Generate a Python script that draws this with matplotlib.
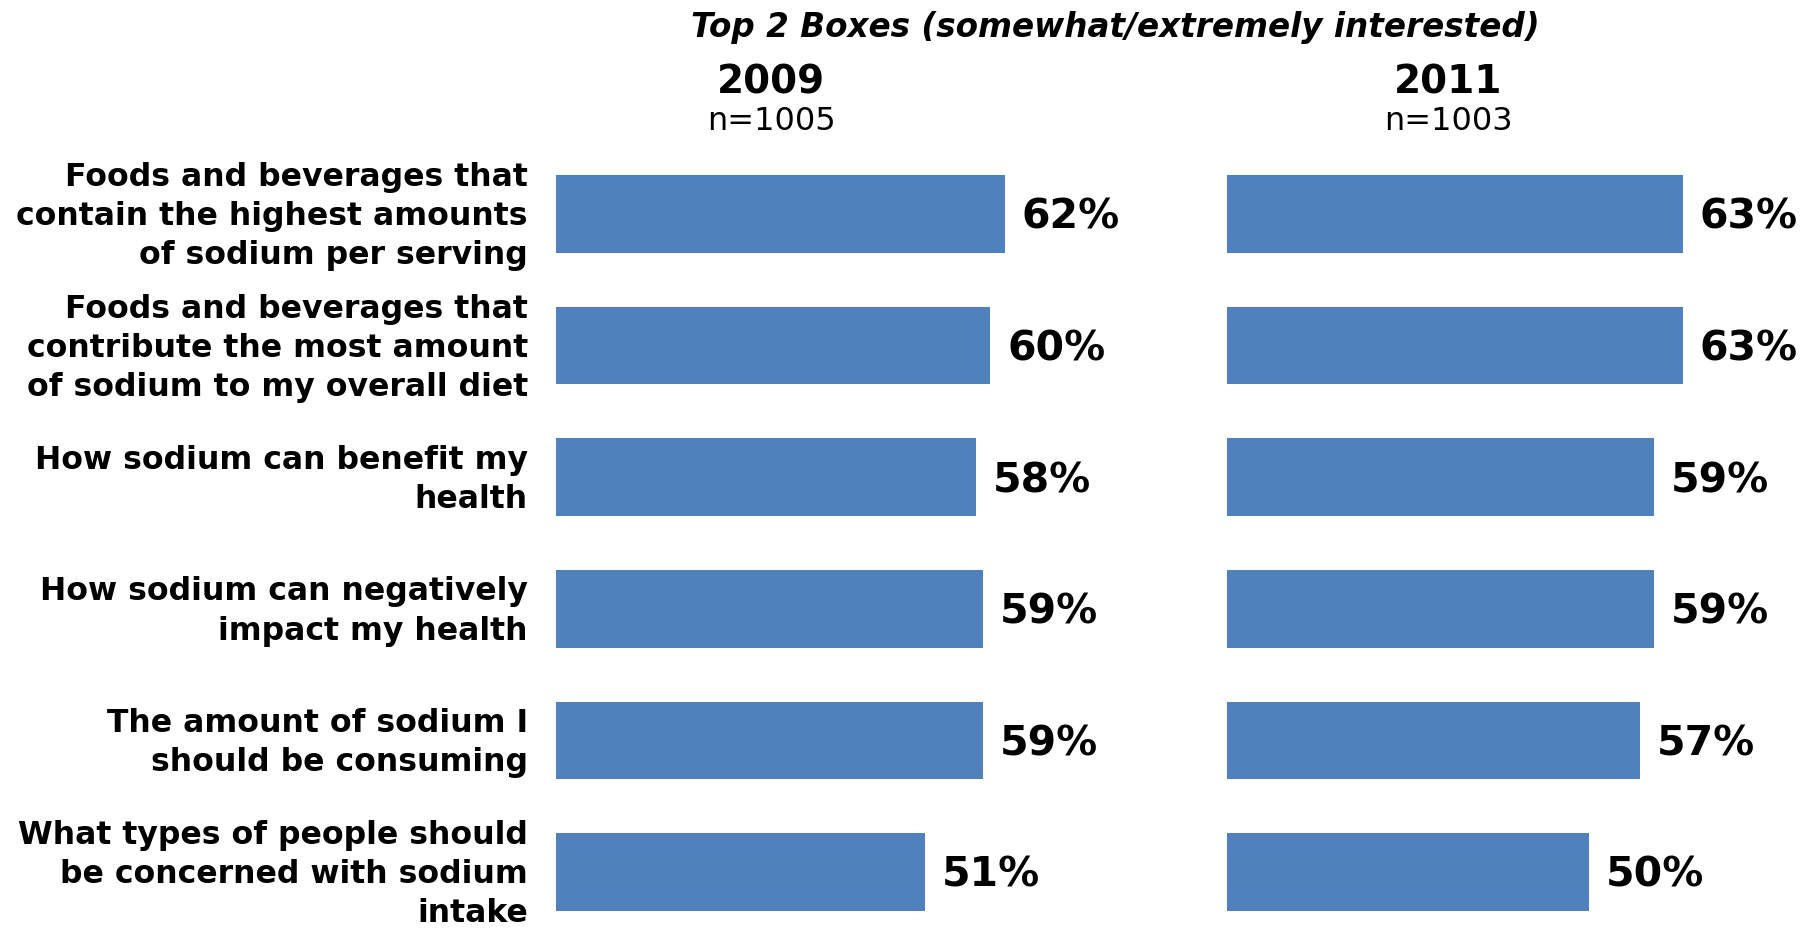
import numpy as np
import matplotlib.pyplot as plt

labels = [
    'Foods and beverages that\ncontain the highest amounts\nof sodium per serving',
    'Foods and beverages that\ncontribute the most amount\nof sodium to my overall diet',
    'How sodium can benefit my\nhealth',
    'How sodium can negatively\nimpact my health',
    'The amount of sodium I\nshould be consuming',
    'What types of people should\nbe concerned with sodium\nintake',
]
vals_2009 = [62, 60, 58, 59, 59, 51]
vals_2011 = [63, 63, 59, 59, 57, 50]
years = ['2009', '2011']
ns = ['n=1005', 'n=1003']

W, H = 1816, 930
fig = plt.figure(figsize=(W / 100, H / 100), dpi=100)

BLUE = '#4F81BD'
px_per_pct = 7.24
row_px = 131.6
first_center = 214

# axes cover full height; y limits map rows to pixel positions
ytop = -first_center / row_px
ybot = (H - first_center) / row_px

def panel(x0, vals):
    width_px = 80 * px_per_pct
    ax = fig.add_axes([x0 / W, 0, width_px / W, 1])
    y = np.arange(len(vals))
    ax.barh(y, vals, height=0.59, color=BLUE)
    for yi, v in zip(y, vals):
        ax.text(v + 2.3, yi + 0.03, f'{v}%', va='center', ha='left',
                fontsize=29.5, fontweight='bold', color='black')
    ax.set_xlim(0, 80)
    ax.set_ylim(ybot, ytop)
    ax.axis('off')
    return ax

ax1 = panel(556, vals_2009)
ax2 = panel(1227, vals_2011)

for i, lab in enumerate(labels):
    ax1.text(-3.9, i + 0.02, lab, ha='right', va='center', fontsize=22.7,
             fontweight='bold', linespacing=1.34)

fig.text(1115 / W, 1 - 27 / H, 'Top 2 Boxes (somewhat/extremely interested)',
         ha='center', va='center', fontsize=23.5, fontweight='bold', style='italic')
for xc, yr, n in zip([771, 1448], years, ns):
    fig.text(xc / W, 1 - 83 / H, yr, ha='center', va='center',
             fontsize=28, fontweight='bold')
    fig.text(xc / W, 1 - 122 / H, n, ha='center', va='center', fontsize=23)

fig.savefig('out.png', dpi=100)
